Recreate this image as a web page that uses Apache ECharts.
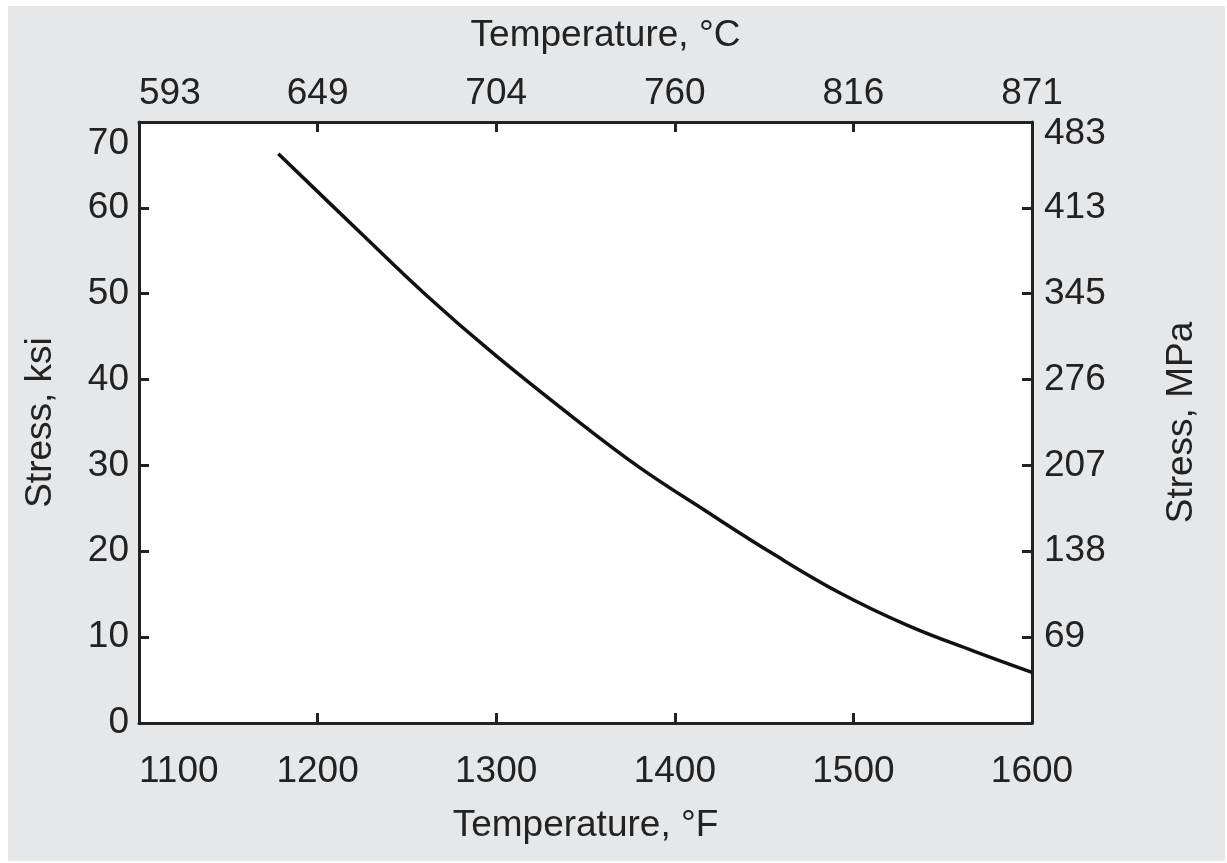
<!DOCTYPE html>
<html>
<head>
<meta charset="utf-8">
<script src="https://cdn.jsdelivr.net/npm/echarts@6/dist/echarts.min.js"></script>
<style>
  html, body { margin: 0; padding: 0; background: #ffffff; }
  #main { position: absolute; left: 8px; top: 6px; width: 1217px; height: 855px; background: #e6e7e9; }
</style>
</head>
<body>
<div id="main"></div>
<script>
// curve: temperature (F) vs stress (ksi)
let tempF = [1178, 1224, 1261, 1298, 1343, 1380, 1418, 1455, 1492, 1530, 1567, 1600];
let stressKsi = [66.3, 57.1, 49.8, 43.1, 35.6, 29.8, 24.6, 19.7, 15.2, 11.4, 8.4, 5.9];

// secondary tick labels
let celsiusLabels = ['593', '649', '704', '760', '816', '871'];
let mpaLabels = ['', '69', '138', '207', '276', '345', '413', '483'];

let fahrenheitTicks = [1100, 1200, 1300, 1400, 1500, 1600];

let points = [];
for (let i = 0; i < tempF.length; i++) {
    points.push([tempF[i], stressKsi[i]]);
}

let ink = '#222';
let font = 'Liberation Sans, Arial, sans-serif';
let fs = 37;

function axisBase() {
    return {
        axisLine: {show: true, onZero: false, lineStyle: {color: ink, width: 3}},
        axisTick: {show: true, inside: true, length: 10, lineStyle: {color: ink, width: 3}},
        splitLine: {show: false},
        nameTextStyle: {color: ink, fontSize: fs, fontFamily: font}
    };
}

let option = {
    animation: false,
    grid: {
        left: 131, top: 116, right: 193, bottom: 138,
        show: true, backgroundColor: '#ffffff', borderWidth: 0
    },
    xAxis: [
        Object.assign(axisBase(), {
            type: 'value', position: 'bottom',
            min: 1100, max: 1600, interval: 100,
            name: 'Temperature, °F', nameLocation: 'middle', nameGap: 84,
            axisLabel: {
                color: ink, fontSize: fs, fontFamily: font, margin: 30,
                alignMinLabel: 'left',
                formatter: function (v) { return String(v); }
            }
        }),
        Object.assign(axisBase(), {
            type: 'value', position: 'top',
            min: 1100, max: 1600, interval: 100,
            name: 'Temperature, °C', nameLocation: 'middle', nameGap: 68,
            nameTextStyle: {color: ink, fontSize: fs, fontFamily: font, padding: [0, 0, 0, 40]},
            axisLabel: {
                color: ink, fontSize: fs, fontFamily: font, margin: 10,
                alignMinLabel: 'left',
                formatter: function (v) {
                    let i = fahrenheitTicks.indexOf(Math.round(v));
                    return i >= 0 ? celsiusLabels[i] : '';
                }
            }
        })
    ],
    yAxis: [
        Object.assign(axisBase(), {
            type: 'value', position: 'left',
            min: 0, max: 70, interval: 10,
            name: 'Stress, ksi', nameLocation: 'middle', nameGap: 80,
            axisLabel: {
                color: ink, fontSize: fs, fontFamily: font, margin: 10,
                formatter: function (v) {
                    return v === 70 ? '{low|70}' : String(v);
                },
                rich: {low: {color: ink, fontSize: fs, fontFamily: font, padding: [44, 0, 0, 0]}}
            }
        }),
        Object.assign(axisBase(), {
            type: 'value', position: 'right',
            min: 0, max: 70, interval: 10,
            name: 'Stress, MPa', nameLocation: 'middle', nameGap: 131,
            axisLabel: {
                color: ink, fontSize: fs, fontFamily: font, margin: 12,
                formatter: function (v) {
                    let s = mpaLabels[Math.round(v / 10)] || '';
                    return v === 70 ? '{low|' + s + '}' : s;
                },
                rich: {low: {color: ink, fontSize: fs, fontFamily: font, padding: [24, 0, 0, 0]}}
            }
        })
    ],
    series: [{
        type: 'line',
        xAxisIndex: 0,
        yAxisIndex: 0,
        data: points,
        smooth: 0.4,
        showSymbol: false,
        lineStyle: {color: '#111', width: 3.5}
    }]
};

var chart = echarts.init(document.getElementById('main'));
chart.setOption(option);
</script>
</body>
</html>
